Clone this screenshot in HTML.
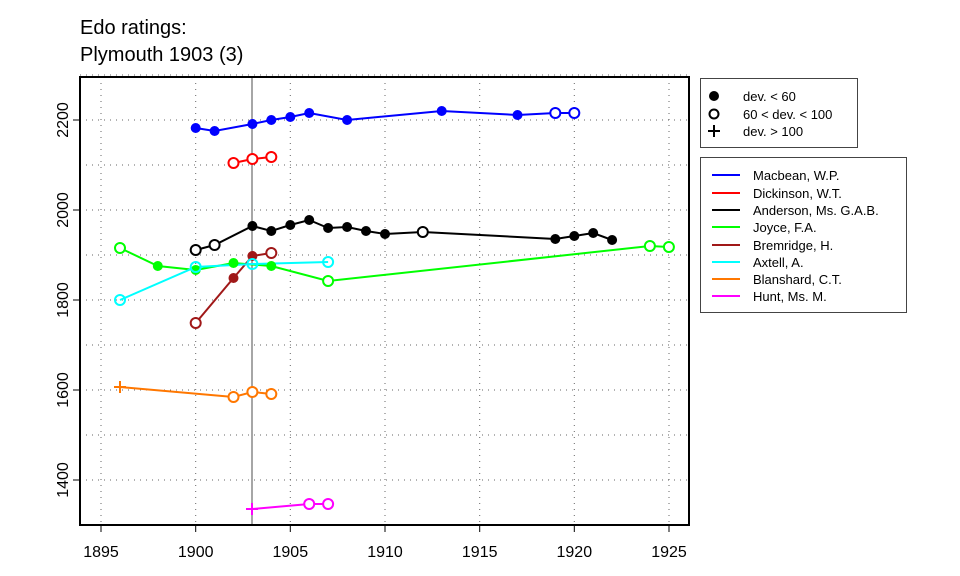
<!DOCTYPE html>
<html><head><meta charset="utf-8"><style>body{margin:0;background:#fff}svg{display:block;font-family:"Liberation Sans",Arial,sans-serif}</style></head><body>
<svg width="960" height="576" viewBox="0 0 960 576" xmlns="http://www.w3.org/2000/svg">
<rect width="960" height="576" fill="#fff"/>
<text x="80" y="34" font-size="20">Edo ratings:</text>
<text x="80" y="61" font-size="20">Plymouth 1903 (3)</text>
<g stroke="#666" stroke-width="1" stroke-dasharray="1,5">
<line x1="101" y1="77" x2="101" y2="525"/><line x1="195.7" y1="77" x2="195.7" y2="525"/><line x1="290.3" y1="77" x2="290.3" y2="525"/><line x1="385" y1="77" x2="385" y2="525"/><line x1="479.7" y1="77" x2="479.7" y2="525"/><line x1="574.3" y1="77" x2="574.3" y2="525"/><line x1="669" y1="77" x2="669" y2="525"/>
<line x1="80" y1="75" x2="689" y2="75"/><line x1="80" y1="120" x2="689" y2="120"/><line x1="80" y1="165" x2="689" y2="165"/><line x1="80" y1="210" x2="689" y2="210"/><line x1="80" y1="255" x2="689" y2="255"/><line x1="80" y1="300" x2="689" y2="300"/><line x1="80" y1="345" x2="689" y2="345"/><line x1="80" y1="390" x2="689" y2="390"/><line x1="80" y1="435" x2="689" y2="435"/><line x1="80" y1="480" x2="689" y2="480"/>
</g>
<line x1="252" y1="77" x2="252" y2="525" stroke="#888" stroke-width="1.5"/>
<g fill="none" stroke-width="2">
<polyline stroke="#00f" points="195.7,128 214.6,131 252.4,124 271.3,120 290.3,117 309.2,113 347.1,120 441.7,111 517.5,115 555.3,113 574.3,113"/>
<polyline stroke="#f00" points="233.5,163 252.4,159 271.3,157"/>
<polyline stroke="#000" points="195.7,250 214.6,245 252.4,226 271.3,231 290.3,225 309.2,220 328.1,228 347.1,227 366,231 385,234 422.8,232 555.3,239 574.3,236 593.2,233 612.1,240"/>
<polyline stroke="#0f0" points="120,248 157.8,266 195.7,270 233.5,263 271.3,266 328.1,281 649.9,246 668.9,247"/>
<polyline stroke="#a01818" points="195.7,323 233.5,278 252.4,256 271.3,253"/>
<polyline stroke="#0ff" points="120,300 195.7,267 252.4,264 328.1,262"/>
<polyline stroke="#f70" points="120,387 233.5,397 252.4,392 271.3,394"/>
<polyline stroke="#f0f" points="252.4,509 309.2,504 328.1,504"/>
</g>
<g fill="#00f"><circle cx="195.7" cy="128" r="5"/><circle cx="214.6" cy="131" r="5"/><circle cx="252.4" cy="124" r="5"/><circle cx="271.3" cy="120" r="5"/><circle cx="290.3" cy="117" r="5"/><circle cx="309.2" cy="113" r="5"/><circle cx="347.1" cy="120" r="5"/><circle cx="441.7" cy="111" r="5"/><circle cx="517.5" cy="115" r="5"/></g>
<g fill="#000"><circle cx="252.4" cy="226" r="5"/><circle cx="271.3" cy="231" r="5"/><circle cx="290.3" cy="225" r="5"/><circle cx="309.2" cy="220" r="5"/><circle cx="328.1" cy="228" r="5"/><circle cx="347.1" cy="227" r="5"/><circle cx="366" cy="231" r="5"/><circle cx="385" cy="234" r="5"/><circle cx="555.3" cy="239" r="5"/><circle cx="574.3" cy="236" r="5"/><circle cx="593.2" cy="233" r="5"/><circle cx="612.1" cy="240" r="5"/></g>
<g fill="#0f0"><circle cx="157.8" cy="266" r="5"/><circle cx="195.7" cy="270" r="5"/><circle cx="233.5" cy="263" r="5"/><circle cx="271.3" cy="266" r="5"/></g>
<g fill="#a01818"><circle cx="233.5" cy="278" r="5"/><circle cx="252.4" cy="256" r="5"/></g>
<g fill="#fff" stroke-width="2">
<g stroke="#00f"><circle cx="555.3" cy="113" r="5"/><circle cx="574.3" cy="113" r="5"/></g>
<g stroke="#f00"><circle cx="233.5" cy="163" r="5"/><circle cx="252.4" cy="159" r="5"/><circle cx="271.3" cy="157" r="5"/></g>
<g stroke="#000"><circle cx="195.7" cy="250" r="5"/><circle cx="214.6" cy="245" r="5"/><circle cx="422.8" cy="232" r="5"/></g>
<g stroke="#0f0"><circle cx="120" cy="248" r="5"/><circle cx="328.1" cy="281" r="5"/><circle cx="649.9" cy="246" r="5"/><circle cx="668.9" cy="247" r="5"/></g>
<g stroke="#a01818"><circle cx="195.7" cy="323" r="5"/><circle cx="271.3" cy="253" r="5"/></g>
<g stroke="#0ff" fill="none"><circle cx="120" cy="300" r="5"/><circle cx="195.7" cy="267" r="5"/><circle cx="252.4" cy="264" r="5"/><circle cx="328.1" cy="262" r="5"/></g>
<g stroke="#f70"><circle cx="233.5" cy="397" r="5"/><circle cx="252.4" cy="392" r="5"/><circle cx="271.3" cy="394" r="5"/></g>
<g stroke="#f0f"><circle cx="309.2" cy="504" r="5"/><circle cx="328.1" cy="504" r="5"/></g>
</g>
<g stroke-width="2"><path d="M114 387h12M120 381v12" stroke="#f70"/><path d="M246 509h12M252 503v12" stroke="#f0f"/></g>
<rect x="80" y="77" width="609" height="448" fill="none" stroke="#000" stroke-width="2"/>
<g stroke="#000" stroke-width="1"><line x1="101" y1="525" x2="101" y2="532"/><line x1="195.7" y1="525" x2="195.7" y2="532"/><line x1="290.3" y1="525" x2="290.3" y2="532"/><line x1="385" y1="525" x2="385" y2="532"/><line x1="479.7" y1="525" x2="479.7" y2="532"/><line x1="574.3" y1="525" x2="574.3" y2="532"/><line x1="669" y1="525" x2="669" y2="532"/>
<line x1="73" y1="120" x2="80" y2="120"/><line x1="73" y1="210" x2="80" y2="210"/><line x1="73" y1="300" x2="80" y2="300"/><line x1="73" y1="390" x2="80" y2="390"/><line x1="73" y1="480" x2="80" y2="480"/></g>
<g font-size="16" text-anchor="middle"><text x="101" y="557">1895</text><text x="195.7" y="557">1900</text><text x="290.3" y="557">1905</text><text x="385" y="557">1910</text><text x="479.7" y="557">1915</text><text x="574.3" y="557">1920</text><text x="669" y="557">1925</text>
<text transform="translate(68,120) rotate(-90)">2200</text><text transform="translate(68,210) rotate(-90)">2000</text><text transform="translate(68,300) rotate(-90)">1800</text><text transform="translate(68,390) rotate(-90)">1600</text><text transform="translate(68,480) rotate(-90)">1400</text></g>
<rect x="700.5" y="78.5" width="157" height="69" fill="#fff" stroke="#444"/>
<circle cx="714" cy="96" r="5"/><circle cx="714" cy="114" r="4.5" fill="none" stroke="#000" stroke-width="2"/><path d="M708 131h12M714 125v12" stroke="#000" stroke-width="2"/>
<g font-size="13"><text x="743" y="101">dev. &lt; 60</text><text x="743" y="119">60 &lt; dev. &lt; 100</text><text x="743" y="136">dev. &gt; 100</text></g>
<rect x="700.5" y="157.5" width="206" height="155" fill="#fff" stroke="#444"/>
<g stroke-width="2"><line x1="712" y1="175" x2="740" y2="175" stroke="#00f"/><line x1="712" y1="193" x2="740" y2="193" stroke="#f00"/><line x1="712" y1="210" x2="740" y2="210" stroke="#000"/><line x1="712" y1="227" x2="740" y2="227" stroke="#0f0"/><line x1="712" y1="245" x2="740" y2="245" stroke="#a01818"/><line x1="712" y1="262" x2="740" y2="262" stroke="#0ff"/><line x1="712" y1="279" x2="740" y2="279" stroke="#f70"/><line x1="712" y1="296" x2="740" y2="296" stroke="#f0f"/></g>
<g font-size="13"><text x="753" y="180">Macbean, W.P.</text><text x="753" y="198">Dickinson, W.T.</text><text x="753" y="215">Anderson, Ms. G.A.B.</text><text x="753" y="232">Joyce, F.A.</text><text x="753" y="250">Bremridge, H.</text><text x="753" y="267">Axtell, A.</text><text x="753" y="284">Blanshard, C.T.</text><text x="753" y="301">Hunt, Ms. M.</text></g>
</svg>
</body></html>
